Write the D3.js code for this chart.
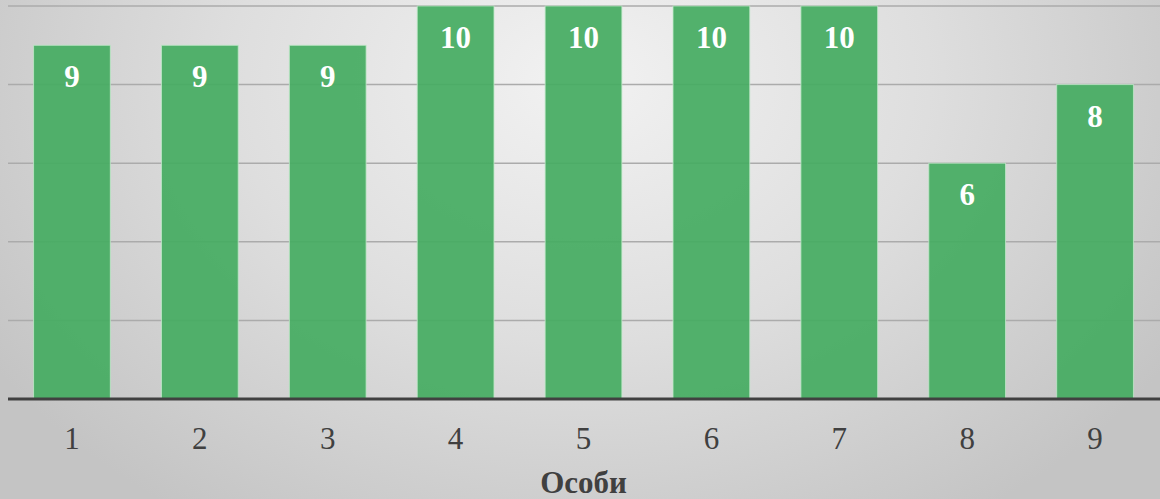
<!DOCTYPE html>
<html>
<head>
<meta charset="utf-8">
<script src="https://cdn.jsdelivr.net/npm/d3@7/dist/d3.min.js"></script>
<style>
html,body{margin:0;padding:0;overflow:hidden;}
svg{display:block;}
</style>
</head>
<body>
<svg id="chart" width="1160" height="499"></svg>
<script>
const categories = ["1","2","3","4","5","6","7","8","9"];
const values = [9,9,9,10,10,10,10,6,8];
const yTicks = [0,2,4,6,8,10];
const xTitle = "Особи";

const W = 1160, H = 499;
const svg = d3.select("#chart");
const defs = svg.append("defs");
const grad = defs.append("radialGradient").attr("id","bg")
  .attr("gradientUnits","userSpaceOnUse")
  .attr("cx",580).attr("cy",80).attr("r",700)
  .attr("gradientTransform","translate(580,80) scale(1,0.75) translate(-580,-80)");
grad.append("stop").attr("offset","0").attr("stop-color","#f2f2f2");
grad.append("stop").attr("offset","0.5").attr("stop-color","#dedede");
grad.append("stop").attr("offset","1").attr("stop-color","#c4c4c4");
svg.append("rect").attr("width",W).attr("height",H).attr("fill","url(#bg)");

const x = d3.scaleBand().domain(categories).range([8,1159]).paddingInner(0.4).paddingOuter(0.2);
const y = d3.scaleLinear().domain([0,10]).range([399,6]);

// gridlines
svg.append("g").selectAll("line").data(yTicks.filter(d=>d>0)).join("line")
  .attr("x1",8).attr("x2",1160)
  .attr("y1",d=>y(d)).attr("y2",d=>y(d))
  .attr("stroke","#ababab").attr("stroke-width",1.5);

// bars
svg.append("g").selectAll("rect").data(values).join("rect")
  .attr("x",(d,i)=>x(categories[i]))
  .attr("y",d=>y(d))
  .attr("width",x.bandwidth())
  .attr("height",d=>y(0)-y(d))
  .attr("fill","#46ac62").attr("fill-opacity",0.93)
  .attr("stroke","#bfe8c8").attr("stroke-opacity",0.8).attr("stroke-width",1);

// value labels
svg.append("g").selectAll("text").data(values).join("text")
  .attr("x",(d,i)=>x(categories[i])+x.bandwidth()/2)
  .attr("y",d=>y(d)+42)
  .attr("text-anchor","middle")
  .attr("font-family","'Liberation Serif','Times New Roman',serif")
  .attr("font-weight","bold").attr("font-size",31)
  .attr("fill","#ffffff")
  .text(d=>d);

// x axis
const xAxis = svg.append("g").attr("transform",`translate(0,${y(0)})`)
  .call(d3.axisBottom(x).tickSize(0).tickPadding(0));
xAxis.select(".domain").remove();
xAxis.append("line").attr("x1",8).attr("x2",1160).attr("y1",0).attr("y2",0)
  .attr("stroke","#404040").attr("stroke-width",3);
xAxis.selectAll(".tick text")
  .attr("dy",0).attr("y",50)
  .attr("font-family","'Liberation Serif','Times New Roman',serif")
  .attr("font-size",31).attr("fill","#404040");

svg.append("text").attr("x",(8+1159)/2).attr("y",493)
  .attr("text-anchor","middle")
  .attr("font-family","'Liberation Serif','Times New Roman',serif")
  .attr("font-weight","bold").attr("font-size",31).attr("fill","#404040")
  .text(xTitle);
</script>
</body>
</html>
